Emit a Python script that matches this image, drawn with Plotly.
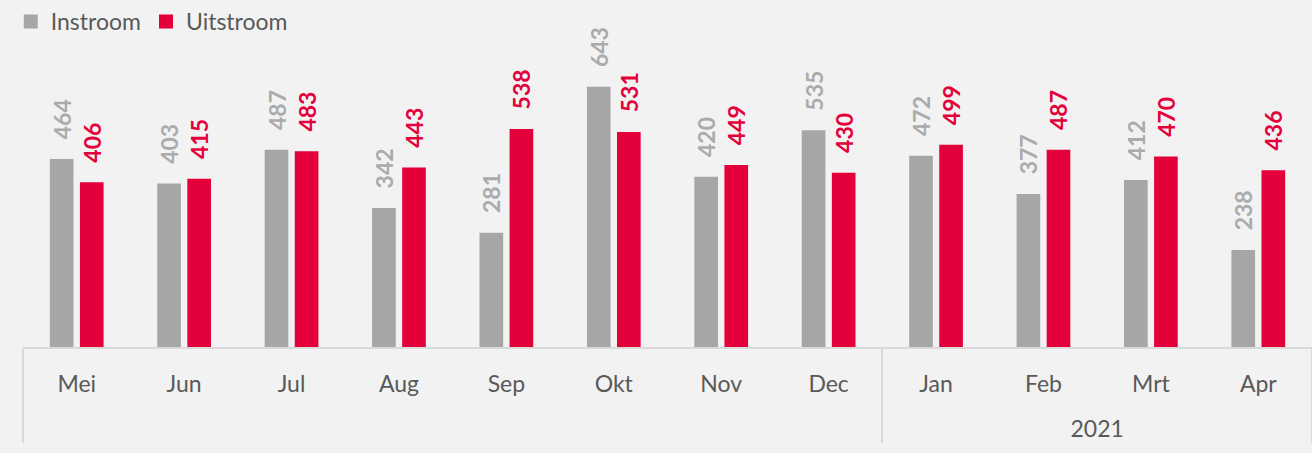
import plotly.graph_objects as go

months = ["Mei", "Jun", "Jul", "Aug", "Sep", "Okt", "Nov", "Dec", "Jan", "Feb", "Mrt", "Apr"]
years = [" ", " ", " ", " ", " ", " ", " ", " ", "<br>2021", "<br>2021", "<br>2021", "<br>2021"]
instroom = [464, 403, 487, 342, 281, 643, 420, 535, 472, 377, 412, 238]
uitstroom = [406, 415, 483, 443, 538, 531, 449, 430, 499, 487, 470, 436]

GRAY = "#A6A6A6"
GRAY_TXT = "#ABABAB"
RED = "#E4003A"
FONT = "Lato"
PAD = "\u00a0\u00a0\u00a0"

x = [years, months]

fig = go.Figure()
fig.add_trace(go.Bar(
    name="Instroom", x=x, y=instroom, marker=dict(color=GRAY, line=dict(color=GRAY, width=2)),
    texttemplate=PAD + "<b>%{y}</b>", textposition="outside", textangle=-90,
    textfont=dict(family=FONT, size=23, color=GRAY_TXT), cliponaxis=False,
    constraintext="none",
))
fig.add_trace(go.Bar(
    name="Uitstroom", x=x, y=uitstroom, marker=dict(color=RED, line=dict(color=RED, width=2)),
    texttemplate=PAD + "<b>%{y}</b>", textposition="outside", textangle=-90,
    textfont=dict(family=FONT, size=23, color=RED), cliponaxis=False,
    constraintext="none",
))

fig.update_layout(
    width=1312, height=453,
    margin=dict(l=23, r=0, t=40, b=106),
    paper_bgcolor="#F2F2F2", plot_bgcolor="#F2F2F2",
    barmode="group", bargap=0.44, bargroupgap=0.28,
    font=dict(family=FONT, color="#595959"),
    showlegend=True,
    legend=dict(orientation="h", x=-0.0095, y=1.133, xanchor="left", yanchor="top",
                font=dict(family=FONT, size=23, color="#595959"),
                bgcolor="rgba(0,0,0,0)", itemclick=False),
    xaxis=dict(type="multicategory", showline=True, linecolor="#D9D9D9", linewidth=2,
               showdividers=True, dividercolor="#D9D9D9", dividerwidth=2,
               ticklabelstandoff=15,
               tickfont=dict(family=FONT, size=23, color="#595959"),
               showgrid=False, zeroline=False),
    yaxis=dict(visible=False, range=[0, 759], showgrid=False, zeroline=False),
)

fig.write_html(
    "out.html",
    config={"displayModeBar": False},
    post_script="document.body.style.margin='0';document.body.style.padding='0';"
                "document.body.style.background='#F2F2F2';",
)
